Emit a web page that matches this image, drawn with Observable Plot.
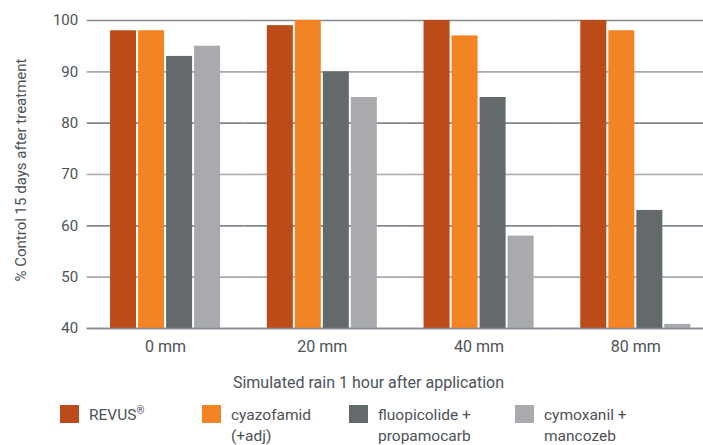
<!DOCTYPE html>
<html>
<head>
<meta charset="utf-8">
<script src="https://cdn.jsdelivr.net/npm/d3@7"></script>
<script src="https://cdn.jsdelivr.net/npm/@observablehq/plot@0.6"></script>
<style>
  html, body { margin: 0; padding: 0; background: #fff; overflow: hidden; }
  #wrap { position: relative; width: 703px; height: 445px; overflow: hidden;
    font-family: Roboto, "Liberation Sans", sans-serif; color: #4d5257; }
  #ylabel { position: absolute; left: 21px; top: 170px; transform: translate(-50%, -50%) rotate(-90deg);
    white-space: nowrap; font-size: 15px; line-height: 18px; }
  #xtitle { position: absolute; left: 0; width: 737px; top: 374px; text-align: center; font-size: 16px; line-height: 18px; white-space: nowrap; }
  .leg { position: absolute; top: 405px; font-size: 15.5px; }
  .leg .sw { position: absolute; left: 0; top: 0; width: 19px; height: 18px; }
  .leg .tx { position: absolute; left: 29px; white-space: nowrap; line-height: 18px; }
  .leg sup { font-size: 10px; vertical-align: 6px; line-height: 0; }
</style>
</head>
<body>
<div id="wrap">
  <div id="chart"></div>
  <div id="ylabel"></div>
  <div id="xtitle"></div>
  <div id="legend"></div>
</div>
<script>
const groups = ["0 mm", "20 mm", "40 mm", "80 mm"];
const series = ["REVUS®", "cyazofamid (+adj)", "fluopicolide + propamocarb", "cymoxanil + mancozeb"];
const legendLines = [["REVUS®"], ["cyazofamid", "(+adj)"], ["fluopicolide +", "propamocarb"], ["cymoxanil +", "mancozeb"]];
const colors = ["#bb4c19", "#f38423", "#64696c", "#a9aaad"];
const revus = [98, 99, 100, 100];
const cyazofamid = [98, 100, 97, 98];
const fluopicolide = [93, 90, 85, 63];
const cymoxanil = [95, 85, 58, 40.8];
const yTicks = [40, 50, 60, 70, 80, 90, 100];
const yLabel = "% Control 15 days after treatment";
const xTitle = "Simulated rain 1 hour after application";

const seriesValues = [revus, cyazofamid, fluopicolide, cymoxanil];
const data = [];
groups.forEach((g, gi) => series.forEach((s, si) => data.push({group: g, series: s, value: seriesValues[si][gi]})));
const base = yTicks[0];

const chart = Plot.plot({
  width: 703,
  height: 366,
  marginLeft: 86,
  marginRight: 0,
  marginTop: 20,
  marginBottom: 38,
  style: {fontFamily: "Roboto, 'Liberation Sans', sans-serif", fontSize: "16px", color: "#4d5257", background: "transparent", maxWidth: "none"},
  fx: {domain: groups, range: [86.7, 713.7], paddingInner: 0, paddingOuter: 0, round: false, axis: "bottom", label: null, tickSize: 0, tickPadding: 12},
  x: {domain: series, axis: null, paddingInner: 0.071, paddingOuter: 0.834, round: false},
  y: {domain: [40, 100], label: null},
  color: {domain: series, range: colors},
  marks: [
    Plot.ruleY(yTicks, {stroke: d => ((d - base) % 20 === 0 ? "#818991" : "#a7a9ac"), strokeWidth: 1.6}),
    Plot.barY(data, {fx: "group", x: "series", y1: base, y2: "value", fill: "series"}),
    Plot.ruleY([base], {stroke: "#818991", strokeWidth: 1.6}),
    Plot.axisY({ticks: yTicks, tickSize: 0, tickPadding: 9, fontSize: 15, label: null})
  ]
});
document.getElementById("chart").appendChild(chart);
document.getElementById("ylabel").textContent = yLabel;
document.getElementById("xtitle").textContent = xTitle;

const legendX = [60, 202, 349, 515];
const leg = document.getElementById("legend");
series.forEach((s, i) => {
  const item = document.createElement("div");
  item.className = "leg";
  item.style.left = legendX[i] + "px";
  const sw = document.createElement("div");
  sw.className = "sw";
  sw.style.background = colors[i];
  item.appendChild(sw);
  legendLines[i].forEach((line, li) => {
    const tx = document.createElement("div");
    tx.className = "tx";
    tx.style.top = (1 + li * 21) + "px";
    tx.innerHTML = line.replace("®", "<sup>®</sup>");
    item.appendChild(tx);
  });
  leg.appendChild(item);
});
</script>
</body>
</html>
